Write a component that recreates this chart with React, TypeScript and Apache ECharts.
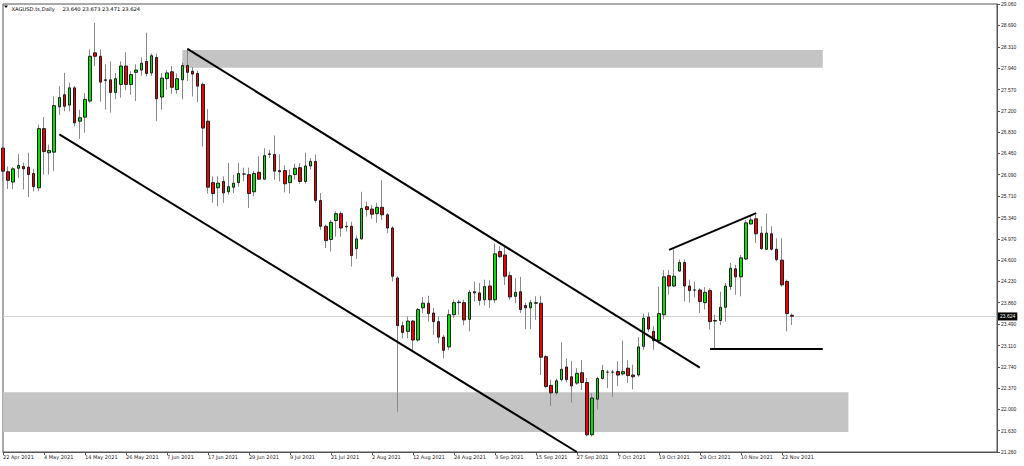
import React, { useEffect, useRef } from 'react';
import * as echarts from 'echarts';

// Daily XAGUSD candles, one per weekday from 22 Apr 2021: [open, close, low, high]
const START_DATE = '2021-04-22';
const CANDLES: number[][] = [
  [26.55, 26.15, 25.97, 26.58], [26.14, 25.99, 25.84, 26.23], [25.96, 26.19, 25.84, 26.22], [26.20, 26.25, 26.03, 26.45],
  [26.23, 26.19, 25.83, 26.30], [26.22, 26.09, 25.70, 26.47], [26.11, 25.88, 25.80, 26.19], [25.86, 26.89, 25.80, 26.96],
  [26.89, 26.49, 26.09, 27.09], [26.47, 26.51, 26.09, 26.61], [26.48, 27.29, 26.15, 27.45], [27.27, 27.43, 27.13, 27.63],
  [27.48, 27.28, 27.19, 27.86], [27.30, 27.60, 27.19, 27.69], [27.60, 26.99, 26.93, 27.63], [27.02, 27.08, 26.71, 27.22],
  [27.09, 27.40, 26.82, 27.51], [27.37, 28.15, 27.34, 28.27], [28.21, 28.15, 27.98, 28.73], [28.15, 27.70, 27.36, 28.27],
  [27.74, 27.73, 27.22, 28.01], [27.74, 27.52, 27.17, 28.06], [27.52, 27.76, 27.40, 27.86], [27.66, 27.98, 27.43, 28.06],
  [27.98, 27.66, 27.56, 28.22], [27.66, 27.83, 27.48, 27.89], [27.87, 27.91, 27.37, 28.01], [27.91, 28.03, 27.81, 28.13],
  [28.06, 27.85, 27.80, 28.56], [27.86, 28.16, 27.81, 28.20], [28.13, 27.41, 27.02, 28.20], [27.44, 27.77, 27.22, 27.86],
  [27.76, 27.86, 27.57, 27.91], [27.88, 27.61, 27.50, 27.98], [27.57, 27.76, 27.50, 27.85], [27.74, 27.99, 27.40, 28.04],
  [27.99, 27.87, 27.72, 28.29], [27.89, 27.84, 27.45, 27.96], [27.85, 27.63, 27.35, 27.90], [27.66, 26.90, 26.58, 27.69],
  [27.02, 25.87, 25.76, 27.23], [25.95, 25.76, 25.60, 26.06], [25.86, 25.94, 25.54, 26.06], [25.97, 25.77, 25.60, 26.06],
  [25.79, 25.88, 25.74, 26.29], [25.87, 25.94, 25.77, 26.09], [25.95, 26.11, 25.88, 26.29], [26.10, 26.10, 25.97, 26.21],
  [26.09, 25.76, 25.51, 26.21], [25.79, 26.11, 25.71, 26.15], [26.13, 26.01, 26.00, 26.41], [26.01, 26.42, 26.00, 26.55],
  [26.45, 26.44, 26.38, 26.52], [26.44, 26.15, 26.00, 26.77], [26.14, 26.16, 25.97, 26.44], [26.16, 25.93, 25.78, 26.25],
  [25.95, 26.07, 25.76, 26.18], [26.09, 26.20, 26.00, 26.28], [26.21, 25.97, 25.93, 26.29], [25.97, 26.24, 25.93, 26.47],
  [26.24, 26.32, 26.18, 26.38], [26.32, 25.64, 25.60, 26.44], [25.64, 25.19, 25.13, 25.77], [25.19, 24.94, 24.81, 25.22],
  [24.96, 25.26, 24.75, 25.30], [25.29, 25.41, 25.01, 25.45], [25.41, 25.16, 25.01, 25.45], [25.19, 25.18, 25.10, 25.27],
  [25.19, 24.68, 24.49, 25.27], [24.80, 24.97, 24.62, 25.03], [24.97, 25.50, 24.96, 25.79], [25.53, 25.48, 25.36, 25.62],
  [25.49, 25.40, 25.32, 25.56], [25.41, 25.52, 25.25, 25.60], [25.52, 25.39, 25.30, 25.99], [25.39, 25.16, 25.07, 25.42],
  [25.16, 24.32, 24.23, 25.19], [24.29, 23.46, 21.96, 24.32], [23.46, 23.34, 23.24, 23.53], [23.36, 23.54, 23.24, 23.62],
  [23.54, 23.21, 23.04, 23.56], [23.21, 23.74, 23.18, 23.77], [23.77, 23.85, 23.68, 23.96], [23.85, 23.67, 23.53, 23.98],
  [23.68, 23.53, 23.30, 23.77], [23.53, 23.26, 23.15, 23.62], [23.26, 23.03, 22.89, 23.30], [23.09, 23.65, 23.04, 23.74],
  [23.65, 23.86, 23.59, 23.91], [23.86, 23.87, 23.65, 23.91], [23.86, 23.56, 23.47, 23.91], [23.57, 24.04, 23.36, 24.08],
  [24.05, 24.03, 23.88, 24.23], [24.03, 23.90, 23.81, 24.20], [23.91, 24.14, 23.81, 24.26], [24.15, 23.91, 23.77, 24.25],
  [23.91, 24.71, 23.85, 24.89], [24.75, 24.66, 24.64, 24.84], [24.69, 24.32, 24.17, 24.84], [24.33, 23.96, 23.91, 24.40],
  [23.97, 24.04, 23.85, 24.29], [24.05, 23.74, 23.68, 24.31], [23.81, 23.77, 23.40, 23.86], [23.77, 23.86, 23.40, 23.91],
  [23.85, 23.86, 23.56, 23.97], [23.85, 22.91, 22.60, 23.98], [22.92, 22.40, 22.37, 22.95], [22.42, 22.29, 22.06, 22.52],
  [22.29, 22.50, 22.25, 22.54], [22.52, 22.70, 22.49, 23.17], [22.74, 22.52, 22.47, 22.89], [22.57, 22.41, 22.12, 22.84],
  [22.46, 22.63, 22.43, 22.72], [22.64, 22.47, 22.34, 22.86], [22.47, 21.56, 21.53, 22.55], [21.56, 22.20, 21.53, 22.28],
  [22.18, 22.54, 22.00, 22.57], [22.54, 22.68, 22.52, 22.78], [22.65, 22.65, 22.37, 22.69], [22.65, 22.65, 22.22, 22.69],
  [22.66, 22.60, 22.41, 22.84], [22.62, 22.66, 22.59, 23.20], [22.72, 22.59, 22.46, 22.86], [22.60, 22.57, 22.35, 22.78],
  [22.60, 23.09, 22.57, 23.26], [23.10, 23.59, 23.04, 23.67], [23.61, 23.40, 23.35, 23.69], [23.36, 23.20, 23.04, 23.45],
  [23.20, 23.67, 23.15, 24.14], [23.65, 24.31, 23.57, 24.43], [24.33, 24.15, 24.00, 24.43], [24.15, 24.32, 24.13, 24.79],
  [24.41, 24.56, 24.40, 24.61], [24.56, 24.15, 23.88, 24.61], [24.15, 24.07, 23.86, 24.26], [24.08, 24.08, 23.95, 24.23],
  [24.08, 23.88, 23.68, 24.11], [23.86, 24.04, 23.74, 24.13], [24.07, 23.53, 23.39, 24.11], [23.55, 23.54, 23.04, 23.65],
  [23.55, 23.78, 23.47, 24.05], [23.78, 24.15, 23.53, 24.20], [24.14, 24.46, 24.08, 24.55], [24.45, 24.31, 24.00, 24.52],
  [24.31, 24.64, 23.97, 24.69], [24.62, 25.25, 24.60, 25.30], [25.23, 25.30, 25.22, 25.37], [25.32, 25.06, 24.90, 25.39],
  [25.07, 24.80, 24.78, 25.19], [24.79, 25.07, 24.78, 25.41], [25.06, 24.79, 24.77, 25.19], [24.79, 24.61, 24.58, 24.98],
  [24.60, 24.17, 24.14, 24.98], [24.23, 23.67, 23.36, 24.26], [23.64, 23.624, 23.471, 23.673],
];

const EMPTY_FUTURE_BARS = 40;
const X_TICK_LABELS = [
  '22 Apr 2021', '4 May 2021', '14 May 2021', '26 May 2021', '7 Jun 2021', '17 Jun 2021', '29 Jun 2021',
  '9 Jul 2021', '21 Jul 2021', '2 Aug 2021', '12 Aug 2021', '24 Aug 2021', '3 Sep 2021', '15 Sep 2021',
  '27 Sep 2021', '7 Oct 2021', '19 Oct 2021', '29 Oct 2021', '10 Nov 2021', '22 Nov 2021',
];
const X_LABEL_EVERY = 8;
const Y_TICK_LABELS = [
  '21.260', '21.630', '22.000', '22.370', '22.740', '23.110', '23.490', '23.860', '24.230', '24.600', '24.970',
  '25.340', '25.710', '26.090', '26.460', '26.830', '27.200', '27.570', '27.940', '28.310', '28.690', '29.060',
];
const LAST_PRICE = 23.624;
const TITLE_SYMBOL = 'XAGUSD.ts,Daily';
const TITLE_QUOTE = '23.640 23.673 23.471 23.624';

// zones: [fromBar, toBar, low, high]
const ZONES = [
  [35, 160, 27.95, 28.26],
  [0, 165, 21.61, 22.30],
];
// trend lines: [bar1, price1, bar2, price2]
const TREND_LINES = [
  [36, 28.28, 136, 22.73],
  [11, 26.79, 112, 21.26],
  [130, 24.78, 147, 25.42],
  [138, 23.05, 160, 23.05],
];

const MONTHS = ['Jan', 'Feb', 'Mar', 'Apr', 'May', 'Jun', 'Jul', 'Aug', 'Sep', 'Oct', 'Nov', 'Dec'];

function buildCategories(): string[] {
  const out: string[] = [];
  const d = new Date(START_DATE + 'T00:00:00Z');
  while (out.length < CANDLES.length) {
    const wd = d.getUTCDay();
    if (wd !== 0 && wd !== 6) {
      out.push(`${d.getUTCDate()} ${MONTHS[d.getUTCMonth()]} ${d.getUTCFullYear()}`);
    }
    d.setUTCDate(d.getUTCDate() + 1);
  }
  for (let i = 0; i < EMPTY_FUTURE_BARS; i++) out.push(`future-${i}`);
  return out;
}

export default function App() {
  const ref = useRef<HTMLDivElement>(null);

  useEffect(() => {
    if (!ref.current) return;
    const chart = echarts.init(ref.current, undefined, { renderer: 'svg' });
    const categories = buildCategories();
    const n = CANDLES.length;
    const showIdx = (idx: number) => idx % X_LABEL_EVERY === 0 && idx < n;
    const yValues = Y_TICK_LABELS.map(Number);
    const bodies = CANDLES.map(([o, c]) => [o, c, Math.min(o, c), Math.max(o, c)]);

    const option: any = {
      animation: false,
      backgroundColor: '#ffffff',
      grid: {
        left: 2, right: 27, top: 4, bottom: 14,
        show: true, borderColor: '#555', borderWidth: 1, backgroundColor: 'transparent',
      },
      xAxis: {
        type: 'category',
        data: categories,
        boundaryGap: false,
        axisLine: { show: true, lineStyle: { color: '#555', width: 1 } },
        axisTick: { show: true, interval: (idx: number) => showIdx(idx), length: 3, lineStyle: { color: '#555' } },
        axisLabel: {
          interval: (idx: number) => showIdx(idx),
          formatter: (_v: string, idx: number) => (showIdx(idx) ? X_TICK_LABELS[idx / X_LABEL_EVERY] : ''),
          align: 'left', margin: 2, fontSize: 5, fontFamily: 'DejaVu Sans', color: '#222',
        },
        splitLine: { show: false },
      },
      yAxis: {
        type: 'value',
        position: 'right',
        min: 21.26,
        max: 29.06,
        axisLine: { show: true, lineStyle: { color: '#555', width: 1 } },
        axisTick: { show: true, customValues: yValues, length: 3, lineStyle: { color: '#555' } },
        axisLabel: {
          customValues: yValues,
          formatter: (v: number) => v.toFixed(3),
          margin: 4, fontSize: 5, fontFamily: 'Liberation Sans Narrow, Liberation Sans', color: '#222',
        },
        splitLine: { show: false },
      },
      series: [
        {
          type: 'line', name: 'zones', data: [], z: 1, silent: true,
          markArea: {
            silent: true, z: 1,
            itemStyle: { color: '#c4c4c4', opacity: 1 },
            data: ZONES.map(([x0, x1, lo, hi]) => [{ coord: [x0, hi] }, { coord: [x1, lo] }]),
          },
          markLine: {
            silent: true, z: 1, symbol: ['none', 'none'],
            lineStyle: { color: '#d2d2d2', width: 1, type: 'solid' },
            label: {
              show: true, position: 'end', distance: 1, formatter: LAST_PRICE.toFixed(3),
              backgroundColor: '#000', color: '#fff', fontSize: 5,
              fontFamily: 'Liberation Sans Narrow, Liberation Sans', padding: [2, 2, 1, 2],
            },
            data: [{ yAxis: LAST_PRICE }],
          },
        },
        {
          type: 'candlestick', name: 'wicks', data: CANDLES, z: 2, barWidth: 1, silent: true,
          itemStyle: {
            color: '#8a8a8a', color0: '#8a8a8a', borderColor: '#8a8a8a', borderColor0: '#8a8a8a',
            borderColorDoji: '#8a8a8a', borderWidth: 1,
          },
        },
        {
          type: 'candlestick', name: 'bodies', data: bodies, z: 3, barWidth: 3, silent: true,
          itemStyle: {
            color: '#00e400', color0: '#f00000', borderColor: '#1e1e1e', borderColor0: '#1e1e1e',
            borderColorDoji: '#1e1e1e', borderWidth: 1,
          },
        },
        {
          type: 'line', name: 'trend', data: [], z: 5, silent: true,
          markLine: {
            silent: true, z: 5, symbol: ['none', 'none'],
            lineStyle: { color: '#000', width: 2, type: 'solid' },
            label: { show: false },
            data: TREND_LINES.map(([x1, y1, x2, y2]) => [{ coord: [x1, y1] }, { coord: [x2, y2] }]),
          },
        },
      ],
      graphic: [
        { type: 'polygon', shape: { points: [[4, 5.5], [8, 5.5], [6, 8]] }, style: { fill: '#000' } },
        {
          type: 'text', x: 11.5, y: 9,
          style: { text: TITLE_SYMBOL, fontSize: 5.2, fontFamily: 'DejaVu Sans', fill: '#000', verticalAlign: 'middle' },
        },
        {
          type: 'text', x: 62.5, y: 9,
          style: { text: TITLE_QUOTE, fontSize: 5.2, fontFamily: 'DejaVu Sans', fill: '#000', verticalAlign: 'middle' },
        },
      ],
    };
    chart.setOption(option);
    return () => chart.dispose();
  }, []);

  return (
    <div
      ref={ref}
      style={{ position: 'fixed', left: 0, top: 0, width: 1024, height: 466, background: '#fff' }}
    />
  );
}
